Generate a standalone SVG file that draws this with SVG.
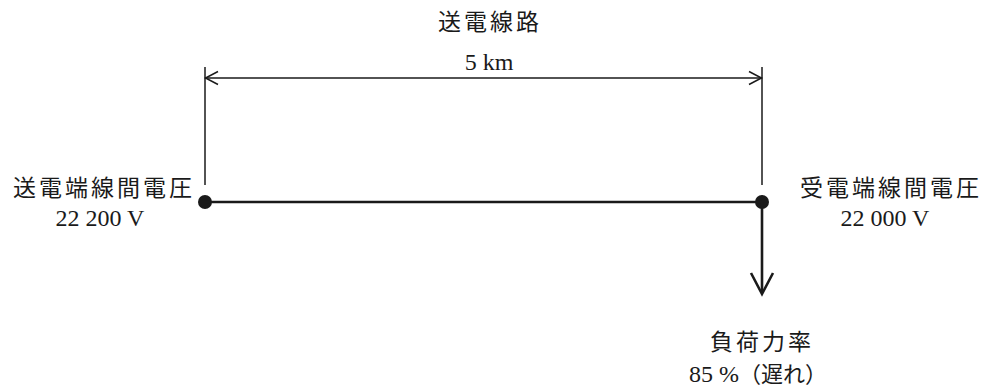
<svg xmlns="http://www.w3.org/2000/svg" width="990" height="390" viewBox="0 0 990 390">
<style>
.ln{stroke:#1a1a1a;fill:none;stroke-linecap:butt;stroke-linejoin:miter}
.thin{stroke-width:1.5}
.thick{stroke-width:2.6}
.jp{font-family:"Liberation Serif","Noto Sans CJK JP",serif;font-size:23px;letter-spacing:3px;fill:#1a1a1a;text-anchor:middle}
.num{font-family:"Liberation Serif","Noto Sans CJK JP",serif;font-size:24px;fill:#1a1a1a;text-anchor:middle}
.dot{fill:#1a1a1a}
</style>
<rect width="990" height="390" fill="#ffffff"/>
<g id="dimension">
<text class="jp" x="490" y="30">送電線路</text>
<text class="num" x="489" y="70">5 km</text>
</g>
<g id="sending-end">
<circle class="dot" cx="205" cy="202" r="7"/>
<text class="jp" x="104" y="196">送電端線間電圧</text>
<text class="num" x="100" y="226">22 200 V</text>
</g>
<g id="receiving-end">
<circle class="dot" cx="762" cy="202" r="7"/>
<text class="jp" x="891" y="196">受電端線間電圧</text>
<text class="num" x="885" y="226">22 000 V</text>
</g>
<g id="load">
<text class="jp" x="762" y="350">負荷力率</text>
<text class="num" x="758" y="382">85 %<tspan font-family="Noto Sans CJK JP, sans-serif" font-size="22">（遅れ）</tspan></text>
</g>
<g id="connectors">
<line class="ln thin" x1="205" y1="67" x2="205" y2="185"/>
<line class="ln thin" x1="762" y1="67" x2="762" y2="185"/>
<line class="ln thin" x1="205" y1="78" x2="762" y2="78"/>
<polyline class="ln thin" points="218,71.5 205.5,78 218,84.5"/>
<polyline class="ln thin" points="749,71.5 761.5,78 749,84.5"/>
<line class="ln thick" x1="205" y1="202" x2="762" y2="202"/>
<line class="ln thick" x1="762" y1="202" x2="762" y2="293"/>
<polyline class="ln thick" points="751,273 762,294 773,273"/>
</g>
</svg>
